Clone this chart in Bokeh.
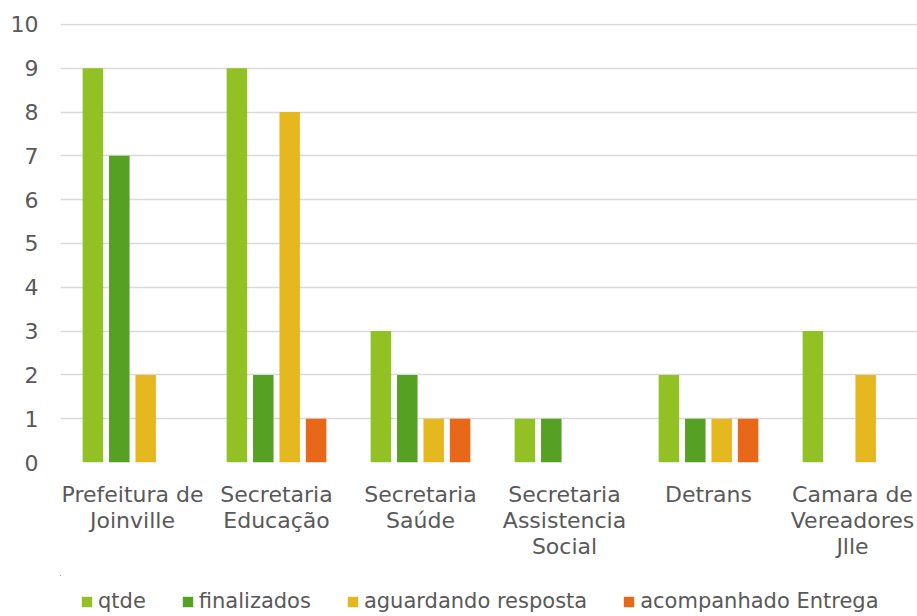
from bokeh.plotting import figure
from bokeh.models import Legend, LegendItem, FixedTicker, Range1d
from bokeh.layouts import column
from bokeh.embed import file_html
from bokeh.resources import INLINE

categories = ["Prefeitura de\nJoinville", "Secretaria\nEducação", "Secretaria\nSaúde",
              "Secretaria\nAssistencia\nSocial", "Detrans", "Camara de\nVereadores\nJlle"]
qtde = [9, 9, 3, 1, 2, 3]
finalizados = [7, 2, 2, 1, 1, 0]
aguardando = [2, 8, 1, 0, 1, 2]
acompanhado = [0, 1, 1, 0, 1, 0]
series_names = ["qtde", "finalizados", "aguardando resposta", "acompanhado Entrega"]
colors = ["#92C126", "#56A024", "#E6B820", "#E8681A"]

FONT = "DejaVu Sans"
TXT = "#595959"

n = len(categories)
centers = [i + 0.5 for i in range(n)]
series = [qtde, finalizados, aguardando, acompanhado]

p = figure(width=917, height=575, output_backend="svg", toolbar_location=None,
           x_range=Range1d(0, 857 / 144), y_range=Range1d(0, 10.02),
           min_border_left=60, min_border_right=0, min_border_top=23, min_border_bottom=113)
p.outline_line_color = None

step = 26.4 / 144
width = 20.5 / 144
for k, (vals, col) in enumerate(zip(series, colors)):
    xs = [c + (k - 1.5) * step for c in centers]
    p.vbar(x=xs, top=vals, bottom=0, width=width, fill_color=col, line_color=None)

p.xgrid.grid_line_color = None
p.ygrid.grid_line_color = "#D9D9D9"
p.ygrid.grid_line_width = 1.5
p.yaxis.ticker = FixedTicker(ticks=list(range(0, 11)))
p.xaxis.ticker = FixedTicker(ticks=centers)
p.xaxis.major_label_overrides = {c: lab for c, lab in zip(centers, categories)}

for ax in (p.xaxis[0], p.yaxis[0]):
    ax.axis_line_color = None
    ax.major_tick_line_color = None
    ax.minor_tick_line_color = None
    ax.major_tick_out = 0
    ax.major_tick_in = 0
    ax.major_label_text_font = FONT
    ax.major_label_text_font_size = "22px"
    ax.major_label_text_color = TXT
p.yaxis.major_label_standoff = 22
p.xaxis.major_label_standoff = 19
p.xaxis.major_label_text_line_height = 1.05

# legend strip below the chart (its frame is aligned with the chart frame);
# its ranges keep the proxy bars far out of view
lg = figure(width=917, height=41, output_backend="svg", toolbar_location=None,
            x_range=Range1d(100, 101), y_range=Range1d(-200, -100),
            min_border_left=60, min_border_right=0, min_border_top=0, min_border_bottom=0)
lg.axis.visible = False
lg.grid.visible = False
lg.outline_line_color = None
legend_rs = []
for k, (vals, col) in enumerate(zip(series, colors)):
    xs = [c + (k - 1.5) * step for c in centers]
    legend_rs.append(lg.vbar(x=xs, top=vals, bottom=0, width=width, fill_color=col, line_color=None))
legend = Legend(items=[LegendItem(label=nm, renderers=[r]) for nm, r in zip(series_names, legend_rs)],
                orientation="horizontal", location=(20, 3),
                label_text_font=FONT, label_text_font_size="21px", label_text_color=TXT,
                glyph_width=13, glyph_height=13, label_standoff=5, spacing=35,
                border_line_color=None, background_fill_alpha=0, padding=0, margin=0)
lg.add_layout(legend, "center")

layout = column(p, lg, spacing=0)
open("out.html", "w").write(file_html(layout, INLINE))
